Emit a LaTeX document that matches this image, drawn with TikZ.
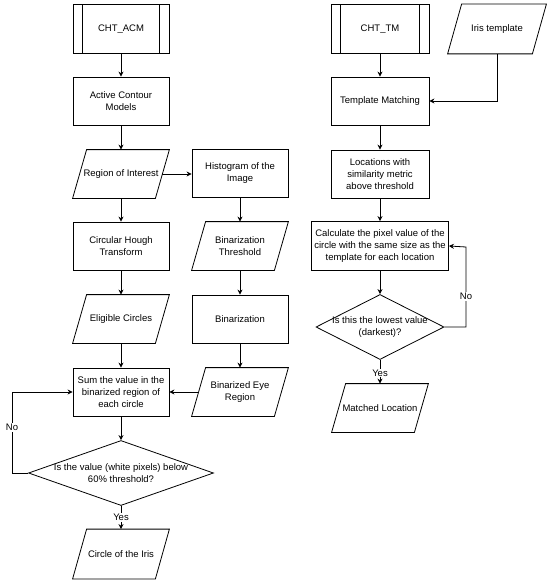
\documentclass[tikz,border=0pt]{standalone}
\usepackage{fontspec}
\setmainfont{Liberation Sans}
\usepackage{tikz}
\usetikzlibrary{calc,arrows.meta,shapes.geometric}
\tikzset{%
  proc/.style={draw,rectangle,minimum width=#1,minimum height=48,align=center,inner sep=1pt},
  proc/.default=96,
  io/.style={rectangle,minimum width=82,minimum height=48,align=center,inner sep=1pt},
  dec/.style={draw,diamond,minimum width=#1,minimum height=65,inner sep=0pt},
  dec/.default=185,
  tag/.style={fill=white,inner sep=1pt}
}

\begin{document}
\begin{tikzpicture}[x=1pt,y=-1pt,line width=0.8pt,>={Stealth[length=5pt,width=5pt]},
    font=\fontsize{9.5}{12}\selectfont]
    \useasboundingbox[fill=white] (0,0) rectangle (550,583);
    % left branch
    \node[proc,minimum height=49] (cacm) at (121,29) {CHT\_ACM};
    \node[proc] (acm) at (121,101) {Active Contour\\Models};
    \node[io] (roi) at (121,174) {Region of Interest};
    \node[proc] (hist) at (240,173) {Histogram of the\\Image};
    \node[proc] (cht) at (121,246) {Circular Hough\\Transform};
    \node[io] (bthr) at (240,246) {Binarization\\Threshold};
    \node[io] (elig) at (121,319) {Eligible Circles};
    \node[proc] (bin) at (240,319) {Binarization};
    \node[proc] (sum) at (121,392) {Sum the value in the\\binarized region of\\each circle};
    \node[io] (beye) at (240,392) {Binarized Eye\\Region};
    \node[dec] (d1) at (121,473) {};
    \node (d1t) at (d1) [align=center] {Is the value (white pixels) below\\60\% threshold?};
    \node[io,minimum height=49] (ciris) at (121,554) {Circle of the Iris};
    %
    % right branch
    \node[proc=98,minimum height=49] (ctm) at (380,29) {CHT\_TM};
    \node[io,minimum width=84,minimum height=49] (itpl) at (497,29) {Iris template};
    \node[proc=98] (tmat) at (380,101) {Template Matching};
    \node[proc=98] (loc) at (380,174) {Locations with\\similarity metric\\above threshold};
    \node[proc=137,minimum height=49] (calc) at (380,246)
      {Calculate the pixel value of the\\circle with the same size as the\\template for each location};
    \node[dec=128] (d2) at (380,327) {};
    \node (d2t) at (d2) [align=center] {Is this the lowest value\\(darkest)?};
    \node[io] (mloc) at (380,408) {Matched Location};
    %
    \foreach \n in {cacm,ctm} {
      \draw ($(\n.north west)+(10,0)$) -- ($(\n.south west)+(10,0)$);
      \draw ($(\n.north east)+(-10,0)$) -- ($(\n.south east)+(-10,0)$);
    }
    \foreach \n in {roi,bthr,elig,beye,ciris,itpl,mloc}
      \draw ($(\n.south west)+(-7,0)$) -- ($(\n.north west)+(7,0)$)
        -- ($(\n.north east)+(7,0)$) -- ($(\n.south east)+(-7,0)$) -- cycle;
    %
    \draw[->] (cacm) -- (acm);
    \draw[->] (acm) -- (roi);
    \draw[->] (roi) -- (cht);
    \draw[->] (roi.east) -- (roi.east -| hist.west);
    \draw[->] (cht) -- (elig);
    \draw[->] (elig) -- (sum);
    \draw[->] (hist) -- (bthr);
    \draw[->] (bthr) -- (bin);
    \draw[->] (bin) -- (beye);
    \draw[->] (beye.west) -- (sum.east);
    \draw[->] (sum) -- (d1);
    \draw[->] (d1) -- (ciris) node[tag,pos=0.5]{Yes};
    \coordinate (noL) at (12,392);
    \draw[->] (d1.west) -| (noL) node[tag,pos=0.78]{No} -- (sum.west);
    %
    \draw[->] (ctm) -- (tmat);
    \draw[->] (itpl.south) |- (tmat.east);
    \draw[->] (tmat) -- (loc);
    \draw[->] (loc) -- (calc);
    \draw[->] (calc) -- (d2);
    \draw[->] (d2) -- (mloc) node[tag,pos=0.55]{Yes};
    \coordinate (noR) at (466,247);
    \draw[->] (d2.east) -| (noR) node[tag,pos=0.69]{No} -- (calc.east);
\end{tikzpicture}
\end{document}
